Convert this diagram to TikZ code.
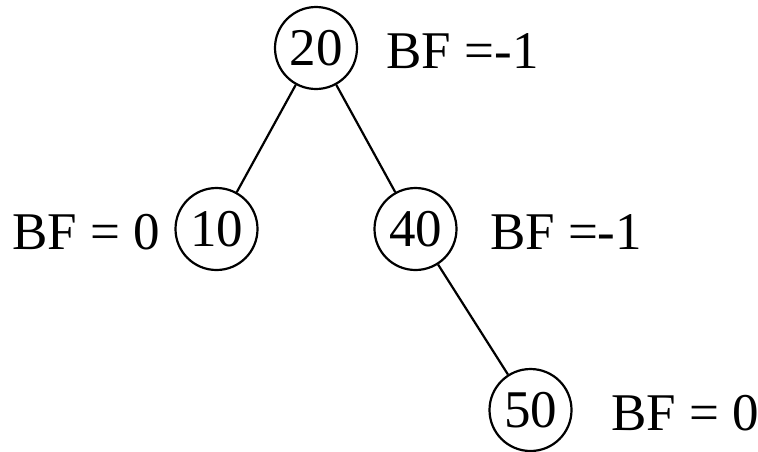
\documentclass[tikz,border=0pt]{standalone}
\usepackage{fontspec}
\setmainfont{Liberation Serif}
\usetikzlibrary{positioning}
\begin{document}
\begin{tikzpicture}[
                x=0.5pt,y=0.5pt,
                font=\fontsize{26.5}{30}\selectfont,
                level distance=90.5pt,
                every node/.style={inner sep=0pt},
                avl/.style={circle,draw,line width=1.1pt,minimum size=41pt},
                bf/.style={yshift=-1.5pt},
                edge from parent/.style={draw,line width=1.1pt},
                level 1/.style={sibling distance=99.5pt},
                level 2/.style={sibling distance=115pt}
            ]
            \useasboundingbox[fill=white] (0,0) rectangle (758,-451);

            \node[avl] (n20) at (316,-48) {20}
            child {node[avl] (n10) {10}}
            child {node[avl] (n40) {40}
                    child[missing] {}
                    child {node[avl] (n50) {50}}
                };

            \node[bf, right=14pt of n20] (bf20) {BF =-1};
            \node[bf, left=7pt of n10] (bf10) {BF = 0};
            \node[bf, right=16pt of n40] (bf40) {BF =-1};
            \node[bf, right=19pt of n50] (bf50) {BF = 0};

        \end{tikzpicture}
\end{document}
